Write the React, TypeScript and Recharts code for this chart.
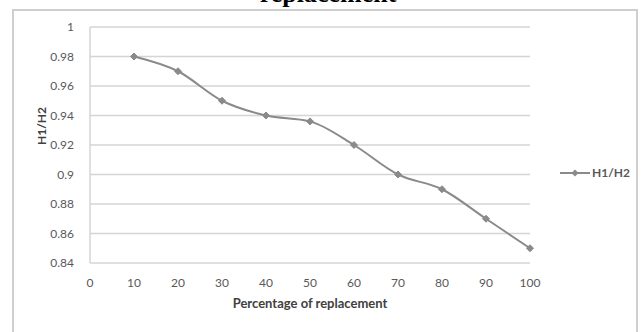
import React from "react";
import { LineChart, Line, XAxis, YAxis, CartesianGrid } from "recharts";

const percentages = [10, 20, 30, 40, 50, 60, 70, 80, 90, 100];
const ratios = [0.98, 0.97, 0.95, 0.94, 0.936, 0.92, 0.9, 0.89, 0.87, 0.85];

const xTicks = [0, 10, 20, 30, 40, 50, 60, 70, 80, 90, 100];
const yTicks = [0.84, 0.86, 0.88, 0.9, 0.92, 0.94, 0.96, 0.98, 1];

const LINE_COLOR = "#8a8a8a";
const TEXT_COLOR = "#595959";
const FONT = "Lato, 'Open Sans', sans-serif";

const data = percentages.map((p, i) => ({ pct: p, ratio: ratios[i] }));

const Diamond = (props: any) => {
  const { cx, cy } = props;
  if (cx == null || cy == null) return null;
  const r = 3.5;
  return (
    <path
      d={`M${cx},${cy - r} L${cx + r},${cy} L${cx},${cy + r} L${cx - r},${cy} Z`}
      fill={LINE_COLOR}
      stroke={LINE_COLOR}
    />
  );
};

const App: React.FC = () => {
  return (
    <div
      style={{
        position: "absolute",
        left: 0,
        top: 0,
        width: 644,
        height: 332,
        background: "#fff",
        overflow: "hidden",
      }}
    >
      {/* title is cropped at the top edge, as in the source image */}
      <div
        style={{
          position: "absolute",
          top: -21,
          left: 0,
          width: 656,
          textAlign: "center",
          fontFamily: "'Liberation Serif', 'Times New Roman', serif",
          fontWeight: 700,
          fontSize: 26,
          lineHeight: "30px",
          color: "#000",
        }}
      >
        replacement
      </div>
      <div
        style={{
          position: "absolute",
          left: 12,
          top: 9,
          width: 626,
          height: 330,
          border: "2px solid #cfcfcf",
          boxSizing: "border-box",
        }}
      />
      <LineChart
        width={644}
        height={332}
        data={data}
        margin={{ top: 27, right: 114, bottom: 20, left: 36 }}
        style={{ position: "absolute", left: 0, top: 0 }}
      >
        <CartesianGrid vertical={false} stroke="#d4d4d4" strokeWidth={1.5} />
        <XAxis
          dataKey="pct"
          type="number"
          domain={[0, 100]}
          ticks={xTicks}
          height={49}
          axisLine={false}
          tickLine={false}
          tick={{ fill: TEXT_COLOR, fontSize: 12, fontFamily: FONT }}
          tickMargin={9}
          label={{
            value: "Percentage of replacement",
            position: "insideBottom",
            offset: 4,
            fill: "#404040",
            fontSize: 13,
            fontWeight: 700,
            fontFamily: FONT,
          }}
        />
        <YAxis
          type="number"
          domain={[0.84, 1]}
          ticks={yTicks}
          width={54}
          axisLine={{ stroke: "#d4d4d4", strokeWidth: 1.5 }}
          tickLine={false}
          tick={{ fill: TEXT_COLOR, fontSize: 12, fontFamily: FONT }}
          tickMargin={10}
          tickFormatter={(v: number) => String(Number(v.toFixed(2)))}
          label={{
            value: "H1/H2",
            angle: -90,
            position: "insideLeft",
            offset: 0,
            dx: 6,
            fill: "#404040",
            fontSize: 12,
            fontWeight: 700,
            fontFamily: FONT,
          }}
        />
        <Line
          type="monotone"
          dataKey="ratio"
          stroke={LINE_COLOR}
          strokeWidth={2}
          dot={<Diamond />}
          activeDot={false}
          isAnimationActive={false}
        />
      </LineChart>
      <div
        style={{
          position: "absolute",
          left: 560,
          top: 165,
          display: "flex",
          alignItems: "center",
          fontFamily: FONT,
          fontSize: 12,
          fontWeight: 700,
          color: TEXT_COLOR,
        }}
      >
        <svg width={30} height={10}>
          <line x1={0} y1={5} x2={30} y2={5} stroke={LINE_COLOR} strokeWidth={2} />
          <path d="M15,1.5 L18.5,5 L15,8.5 L11.5,5 Z" fill={LINE_COLOR} />
        </svg>
        <span style={{ marginLeft: 2 }}>H1/H2</span>
      </div>
    </div>
  );
};

export default App;
